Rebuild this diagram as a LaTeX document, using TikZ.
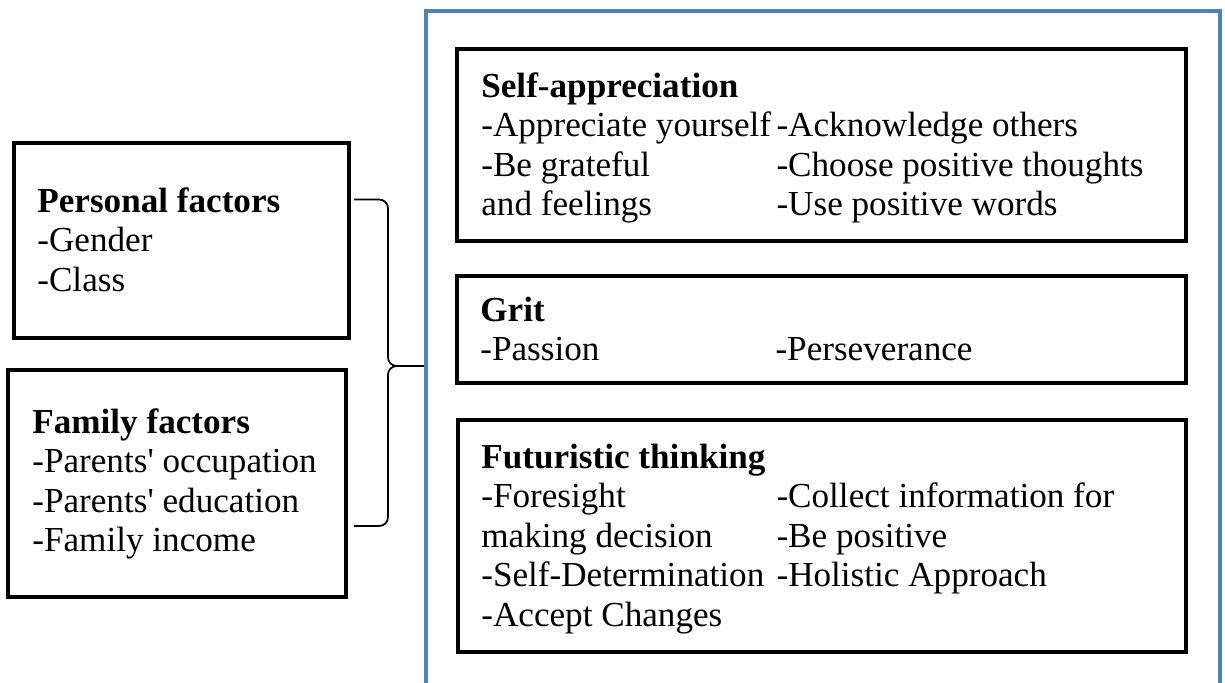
\documentclass[tikz,border=0pt]{standalone}
\usepackage{fontspec}
\setmainfont{Liberation Serif}
\usetikzlibrary{fit}
\definecolor{frameblue}{HTML}{4F81BD}
\tikzset{
	box/.style={draw=black, line width=2.5pt, inner sep=0pt},
	frame/.style={draw=frameblue, line width=2.3pt, inner sep=0pt},
	txt/.style={anchor=base west, inner sep=0pt, font=\fontsize{20}{22.5}\selectfont},
	bracestyle/.style={draw=black, line width=1pt, rounded corners=5pt}
}
\newcommand{\headline}[1]{\multicolumn{2}{@{}l@{}}{\textbf{#1}}}

\begin{document}
\begin{tikzpicture}[x=0.02cm, y=-0.02cm]
	\useasboundingbox (0,0) rectangle (1225,683);
	% blue frame, bottom edge lies below the page
	\node[frame, fit={(426,11) (1220,721)}] (frame) {};
	% left boxes
	\node[box, fit={(14,143) (349,338)}] (personal) {};
	\node[box, fit={(8,370) (346,597)}] (family) {};
	\node[txt] (personaltext) at (37,212) {\begin{tabular}[t]{@{}l@{}}
		\textbf{Personal factors}\\
		-Gender\\
		-Class
	\end{tabular}};
	\node[txt] (familytext) at (32,433) {\begin{tabular}[t]{@{}l@{}}
		\textbf{Family factors}\\
		-Parents\textquotesingle{} occupation\\
		-Parents\textquotesingle{} education\\
		-Family income
	\end{tabular}};
	% right boxes
	\node[box, fit={(457,49) (1186,241)}] (self) {};
	\node[box, fit={(457,276) (1186,383)}] (grit) {};
	\node[box, fit={(458,420) (1186,652)}] (future) {};
	\node[txt] (selftext) at (481,97) {\begin{tabular}[t]{@{}p{168pt}@{}l@{}}
		\headline{Self-appreciation}\\
		-Appreciate yourself & -Acknowledge others\\
		-Be grateful & -Choose positive thoughts\\
		and feelings & -Use positive words
	\end{tabular}};
	\node[txt] (grittext) at (480,321) {\begin{tabular}[t]{@{}p{168pt}@{}l@{}}
		\headline{Grit}\\
		-Passion & -Perseverance
	\end{tabular}};
	\node[txt] (futuretext) at (481,468) {\begin{tabular}[t]{@{}p{168pt}@{}l@{}}
		\headline{Futuristic thinking}\\
		-Foresight & -Collect information for\\
		making decision & -Be positive\\
		-Self-Determination & -Holistic Approach\\
		-Accept Changes &
	\end{tabular}};
	% brace
	\coordinate (spine) at ([shift={(-36,0)}]frame.west);
	\coordinate (ptop) at ([shift={(3,-41)}]personal.east);
	\coordinate (fbot) at ([shift={(6,42.5)}]family.east);
	\draw[bracestyle] (ptop) -- (ptop -| spine) -- (spine) -- (frame.west);
	\draw[bracestyle] (fbot) -- (fbot -| spine) -- (spine) -- (frame.west);
\end{tikzpicture}
\end{document}
